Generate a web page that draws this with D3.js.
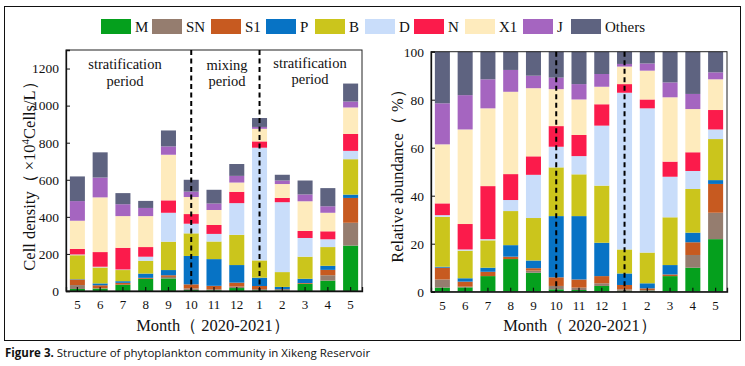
<!DOCTYPE html>
<html><head><meta charset="utf-8">
<script src="https://cdn.jsdelivr.net/npm/d3@7"></script>
<style>
body{margin:0;background:#fff;}
svg{display:block;}
</style></head>
<body>
<svg id="chart" width="745" height="366"></svg>
<script>
const months = ["5","6","7","8","9","10","11","12","1","2","3","4","5"];
const seriesNames = ["M","SN","S1","P","B","D","N","X1","J","Others"];
const seriesColors = ["#05a01d","#957d6f","#c75a20","#0773c5","#cbc51c","#c9ddfa","#fb1b4b","#feebbd","#a565c0","#5e6380"];

// Cell density (x10^4 cells/L)
const densM  = [11,13,34,66,68,6,4,16,4,3,39,56,245];
const densSN = [21,2,0,0,8,8,5,8,6,2,0,29,123];
const densS1 = [30,16,10,5,9,22,19,21,17,4,4,29,134];
const densP  = [2,10,9,23,28,153,144,95,45,13,23,22,18];
const densB  = [129,86,60,69,153,122,95,163,93,80,119,101,191];
const densD  = [4,4,3,22,156,52,41,171,608,377,101,42,45];
const densN  = [30,79,117,52,67,52,48,61,34,23,38,43,91];
const densX1 = [152,295,171,167,246,92,81,50,68,75,160,100,143];
const densJ  = [106,107,64,44,45,29,35,36,10,19,37,35,32];
const densO  = [133,136,60,38,86,64,74,64,48,31,75,98,97];

// Relative abundance (%)
const relM  = [1.7,1.8,6.5,13.6,7.9,1.0,0.7,2.4,0.4,0.4,6.5,10.0,21.9];
const relSN = [3.4,0.3,0,0,0.9,1.4,1.0,1.1,0.6,0.3,0,5.3,11.0];
const relS1 = [4.9,2.1,1.8,1.0,1.0,3.6,3.4,3.0,1.8,0.7,0.7,5.3,12.0];
const relP  = [0.4,1.4,1.7,4.8,3.2,25.5,26.4,13.9,4.8,2.1,3.9,4.0,1.6];
const relB  = [20.8,11.5,11.4,14.2,17.7,20.3,17.4,23.8,10.0,12.8,19.9,18.2,17.1];
const relD  = [0.7,0.5,0.5,4.6,18.0,8.6,7.6,25.0,65.3,60.1,16.9,7.5,4.0];
const relN  = [4.9,10.6,22.1,10.8,7.7,8.6,8.8,8.9,3.6,3.7,6.3,7.8,8.1];
const relX1 = [24.6,39.4,32.4,34.3,28.4,15.4,14.8,7.3,7.3,12.0,26.8,18.0,12.8];
const relJ  = [17.1,14.3,12.1,9.1,5.2,4.8,6.4,5.3,1.1,3.0,6.2,6.3,2.9];
const relO  = [21.5,18.1,11.5,7.6,10.1,10.8,13.5,9.3,5.1,4.9,12.8,17.6,8.6];

const densTicks = [0,200,400,600,800,1000,1200];
const relTicks = [0,20,40,60,80,100];

const densSeries = [densM,densSN,densS1,densP,densB,densD,densN,densX1,densJ,densO];
const relSeries = [relM,relSN,relS1,relP,relB,relD,relN,relX1,relJ,relO];

const svg = d3.select("#chart");
const serif = "'Liberation Serif','DejaVu Serif',serif";

// outer frame
svg.append("rect").attr("x",4.5).attr("y",6.5).attr("width",736).attr("height",334)
  .attr("fill","none").attr("stroke","#111").attr("stroke-width",1);

// legend
const legendX = [101,152,211,266,315,365,414,465,523,571];
const lg = svg.append("g");
seriesNames.forEach((n,i)=>{
  lg.append("rect").attr("x",legendX[i]).attr("y",19).attr("width",30).attr("height",15).attr("fill",seriesColors[i]);
  lg.append("text").attr("x",legendX[i]+34).attr("y",31.5).attr("font-family",serif).attr("font-size",15).attr("fill","#111").text(n);
});

function toRows(seriesArr){
  return months.map((m,i)=>{ const o={idx:i}; seriesNames.forEach((n,k)=>o[n]=seriesArr[k][i]); return o; });
}

function panel(opts){
  const {x0,x1,y0,y1,domainMax,ticks,seriesArr} = opts;
  const g = svg.append("g");
  const x = d3.scaleBand().domain(d3.range(months.length)).range([x0,x1]).paddingInner(0.34).paddingOuter(0.17);
  const y = d3.scaleLinear().domain([0,domainMax]).range([y1,y0]);
  const stack = d3.stack().keys(seriesNames)(toRows(seriesArr));
  stack.forEach((layer,k)=>{
    g.append("g").selectAll("rect").data(layer).join("rect")
      .attr("x",d=>x(d.data.idx)).attr("width",x.bandwidth())
      .attr("y",d=>y(d[1])).attr("height",d=>Math.max(0,y(d[0])-y(d[1])))
      .attr("fill",seriesColors[k]);
  });
  // frame
  g.append("rect").attr("x",x0).attr("y",y0).attr("width",x1-x0).attr("height",y1-y0)
    .attr("fill","none").attr("stroke","#222").attr("stroke-width",1);
  // y axis
  const ya = g.append("g").attr("transform",`translate(${x0},0)`)
    .call(d3.axisLeft(y).tickValues(ticks).tickFormat(d3.format("d")).tickSize(-4).tickPadding(7));
  ya.select(".domain").attr("stroke","#111").attr("stroke-width",1.3);
  ya.selectAll("text").attr("font-family",serif).attr("font-size",13.5).attr("fill","#111");
  ya.selectAll("line").attr("stroke","#111");
  // x axis
  const xa = g.append("g").attr("transform",`translate(0,${y1})`)
    .call(d3.axisBottom(x).tickFormat(i=>months[i]).tickSize(-4).tickPadding(9));
  xa.select(".domain").attr("stroke","#111").attr("stroke-width",1.3);
  xa.selectAll("text").attr("font-family",serif).attr("font-size",13).attr("fill","#111");
  xa.selectAll("line").attr("stroke","#111").attr("stroke-width",1.2);
  // dashed lines at month 10 and month 1
  [5,8].forEach(i=>{
    const cx = x(i)+x.bandwidth()/2;
    g.append("line").attr("x1",cx).attr("x2",cx).attr("y1",y0).attr("y2",y1)
      .attr("stroke","#000").attr("stroke-width",2).attr("stroke-dasharray","5,3.5");
  });
  return {g,x,y};
}

const L = panel({x0:66,x1:362,y0:50,y1:291,domainMax:1300,ticks:densTicks,seriesArr:densSeries});
const R = panel({x0:431,x1:727,y0:51.7,y1:291.7,domainMax:100,ticks:relTicks,seriesArr:relSeries});

// period annotations
const ann = [["stratification",125,69],["period",125,86],["mixing",227,70],["period",227,86],["stratification",310,68],["period",310,84]];
ann.forEach(a=>svg.append("text").attr("x",a[1]).attr("y",a[2]).attr("text-anchor","middle")
  .attr("font-family",serif).attr("font-size",14.5).attr("fill","#111").text(a[0]));

// axis titles
svg.append("text").attr("x",213).attr("y",331).attr("text-anchor","middle").attr("font-family",serif)
  .attr("font-size",16.5).attr("fill","#111").text("Month（ 2020-2021）");
svg.append("text").attr("x",580).attr("y",331).attr("text-anchor","middle").attr("font-family",serif)
  .attr("font-size",16.5).attr("fill","#111").text("Month（ 2020-2021）");

const yl = svg.append("text").attr("transform","translate(35,172) rotate(-90)").attr("text-anchor","middle")
  .attr("font-family",serif).attr("font-size",16.5).attr("fill","#111");
yl.append("tspan").text("Cell density（ ×10");
yl.append("tspan").attr("dy",-6).attr("font-size",11).text("4");
yl.append("tspan").attr("dy",6).text("Cells/L）");

svg.append("text").attr("transform","translate(403,172) rotate(-90)").attr("text-anchor","middle")
  .attr("font-family",serif).attr("font-size",16.5).attr("fill","#111").text("Relative abundance（ %）");

// caption
const cap = svg.append("text").attr("x",5).attr("y",357).attr("font-family","'Open Sans','Liberation Sans',sans-serif")
  .attr("font-size",11.5).attr("fill","#111");
cap.append("tspan").attr("font-weight","bold").text("Figure 3.");
cap.append("tspan").text(" Structure of phytoplankton community in Xikeng Reservoir");
</script>
</body></html>
